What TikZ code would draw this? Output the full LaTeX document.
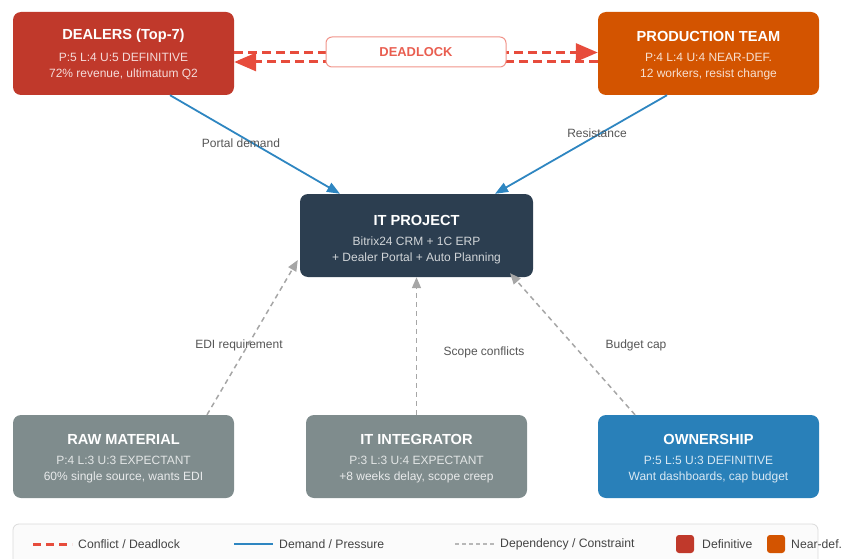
\documentclass[tikz,border=0pt]{standalone}
\usepackage{fontspec}
\setmainfont{Liberation Sans}
\usetikzlibrary{arrows.meta}
\definecolor{cdef}{HTML}{C0392B}
\definecolor{cnear}{HTML}{D35400}
\definecolor{cit}{HTML}{2C3E50}
\definecolor{cgray}{HTML}{7F8C8D}
\definecolor{cown}{HTML}{2980B9}
\definecolor{cconf}{HTML}{E74C3C}
\definecolor{cdem}{HTML}{2E86C1}
\definecolor{cdep}{HTML}{A6A6A6}
\definecolor{clab}{HTML}{555555}
\definecolor{cleg}{HTML}{444444}
\tikzset{
  box/.style={rounded corners=8pt, minimum width=221pt, minimum height=83pt, inner sep=0pt, draw=none},
  ttl/.style={font=\fontsize{14.6}{16}\selectfont\bfseries, text=white, inner sep=0pt},
  sub/.style={font=\fontsize{12}{13}\selectfont, inner sep=0pt},
  lab/.style={font=\fontsize{12}{13}\selectfont, text=clab, inner sep=0pt},
  legtxt/.style={font=\fontsize{12.2}{13}\selectfont, text=cleg, inner sep=0pt, anchor=west},
  conflict/.style={draw=cconf, line width=3pt, dash pattern=on 9pt off 5pt},
  demand/.style={draw=cdem, line width=1.8pt, -{Triangle[length=13pt,width=10pt]}},
  depend/.style={draw=cdep, line width=1.5pt, dash pattern=on 5pt off 4pt, -{Triangle[length=11pt,width=9pt]}},
}
\begin{document}
\begin{tikzpicture}[x=1pt,y=-1pt]
\useasboundingbox (0,0) rectangle (843,559);

% boxes
\node[box, fill=cdef] (dealers) at (123.5,53.5) {};
\node[box, fill=cnear] (prod) at (708.5,53.5) {};
\node[box, fill=cit, minimum width=233pt] (itp) at (416.5,235.5) {};
\node[box, fill=cgray] (raw) at (123.5,456.5) {};
\node[box, fill=cgray] (integ) at (416.5,456.5) {};
\node[box, fill=cown] (own) at (708.5,456.5) {};

% box texts
\node[ttl] (dealers-t) at (123.5,36) {DEALERS (Top-7)};
\node[sub, text=white!82!cdef] (dealers-a) at (123.5,57) {P:5 L:4 U:5 DEFINITIVE};
\node[sub, text=white!82!cdef] (dealers-b) at (123.5,74) {72\% revenue, ultimatum Q2};

\node[ttl] (prod-t) at (708.5,36) {PRODUCTION TEAM};
\node[sub, text=white!82!cnear] (prod-a) at (708.5,57) {P:4 L:4 U:4 NEAR-DEF.};
\node[sub, text=white!82!cnear] (prod-b) at (708.5,74) {12 workers, resist change};

\node[ttl] (itp-t) at (416.5,220) {IT PROJECT};
\node[sub, text=white!78!cit] (itp-a) at (416.5,241) {Bitrix24 CRM + 1C ERP};
\node[sub, text=white!78!cit] (itp-b) at (416.5,258) {+ Dealer Portal + Auto Planning};

\node[ttl] (raw-t) at (123.5,439) {RAW MATERIAL};
\node[sub, text=white!78!cgray] (raw-a) at (123.5,460) {P:4 L:3 U:3 EXPECTANT};
\node[sub, text=white!82!cgray] (raw-b) at (123.5,477) {60\% single source, wants EDI};

\node[ttl] (integ-t) at (416.5,439) {IT INTEGRATOR};
\node[sub, text=white!78!cgray] (integ-a) at (416.5,460) {P:3 L:3 U:4 EXPECTANT};
\node[sub, text=white!82!cgray] (integ-b) at (416.5,477) {+8 weeks delay, scope creep};

\node[ttl] (own-t) at (708.5,439) {OWNERSHIP};
\node[sub, text=white!82!cown] (own-a) at (708.5,460) {P:5 L:5 U:3 DEFINITIVE};
\node[sub, text=white!82!cown] (own-b) at (708.5,477) {Want dashboards, cap budget};

% deadlock
\draw[conflict, -{Triangle[length=22pt,width=18pt]}] ([yshift=1pt]dealers.east) -- ([yshift=1pt]prod.west);
\draw[conflict, -{Triangle[length=22pt,width=18pt]}] ([yshift=-8.5pt]prod.west) -- ([yshift=-8.5pt]dealers.east);
\node[draw=cconf!60, line width=1pt, fill=white, rounded corners=6pt, minimum width=180pt, minimum height=30pt, inner sep=0pt,
      font=\fontsize{12.9}{14}\selectfont\bfseries, text=cconf!90!white] (deadlock) at (416,52) {DEADLOCK};

% demand arrows
\draw[demand] ([xshift=46.5pt]dealers.south) -- ([xshift=-76.5pt]itp.north);
\draw[demand] ([xshift=-41.5pt]prod.south) -- ([xshift=78.5pt]itp.north);
\node[lab] (l-portal) at (241,143) {Portal demand};
\node[lab] (l-resist) at (597,133) {Resistance};

% dependency arrows
\draw[depend] ([xshift=83.5pt]raw.north) -- ([yshift=-24.5pt, xshift=-2pt]itp.west);
\draw[depend] (integ.north) -- (itp.south);
\draw[depend] ([xshift=-73.5pt]own.north) -- ([xshift=93.5pt, yshift=4pt]itp.south);
\node[lab] (l-edi) at (239,345) {EDI requirement};
\node[lab] (l-scope) at (484,352) {Scope conflicts};
\node[lab] (l-budget) at (636,345) {Budget cap};

% legend
\draw[draw=black!14, fill=black!1.5, rounded corners=6pt, line width=0.8pt] (13,524) rectangle (818,580);
\coordinate (lg1a) at (33,544); \coordinate (lg1b) at (72,544);
\draw[draw=cconf, line width=3pt, dash pattern=on 8pt off 5pt] (lg1a) -- (lg1b);
\node[legtxt] (lg1) at (78,544) {Conflict / Deadlock};
\coordinate (lg2a) at (234,544); \coordinate (lg2b) at (273,544);
\draw[draw=cdem, line width=2pt] (lg2a) -- (lg2b);
\node[legtxt] (lg2) at (279,544) {Demand / Pressure};
\coordinate (lg3a) at (455,544); \coordinate (lg3b) at (495,544);
\draw[draw=cdep!80, line width=1.5pt, dash pattern=on 4pt off 3pt] (lg3a) -- (lg3b);
\node[legtxt] (lg3) at (500,544) {Dependency / Constraint};
\node[fill=cdef, rounded corners=3pt, minimum size=18pt, inner sep=0pt] (lg4s) at (685,544) {};
\node[legtxt] (lg4) at (702,544) {Definitive};
\node[fill=cnear, rounded corners=3pt, minimum size=18pt, inner sep=0pt] (lg5s) at (776,544) {};
\node[legtxt] (lg5) at (791,544) {Near-def.};
\end{tikzpicture}
\end{document}
